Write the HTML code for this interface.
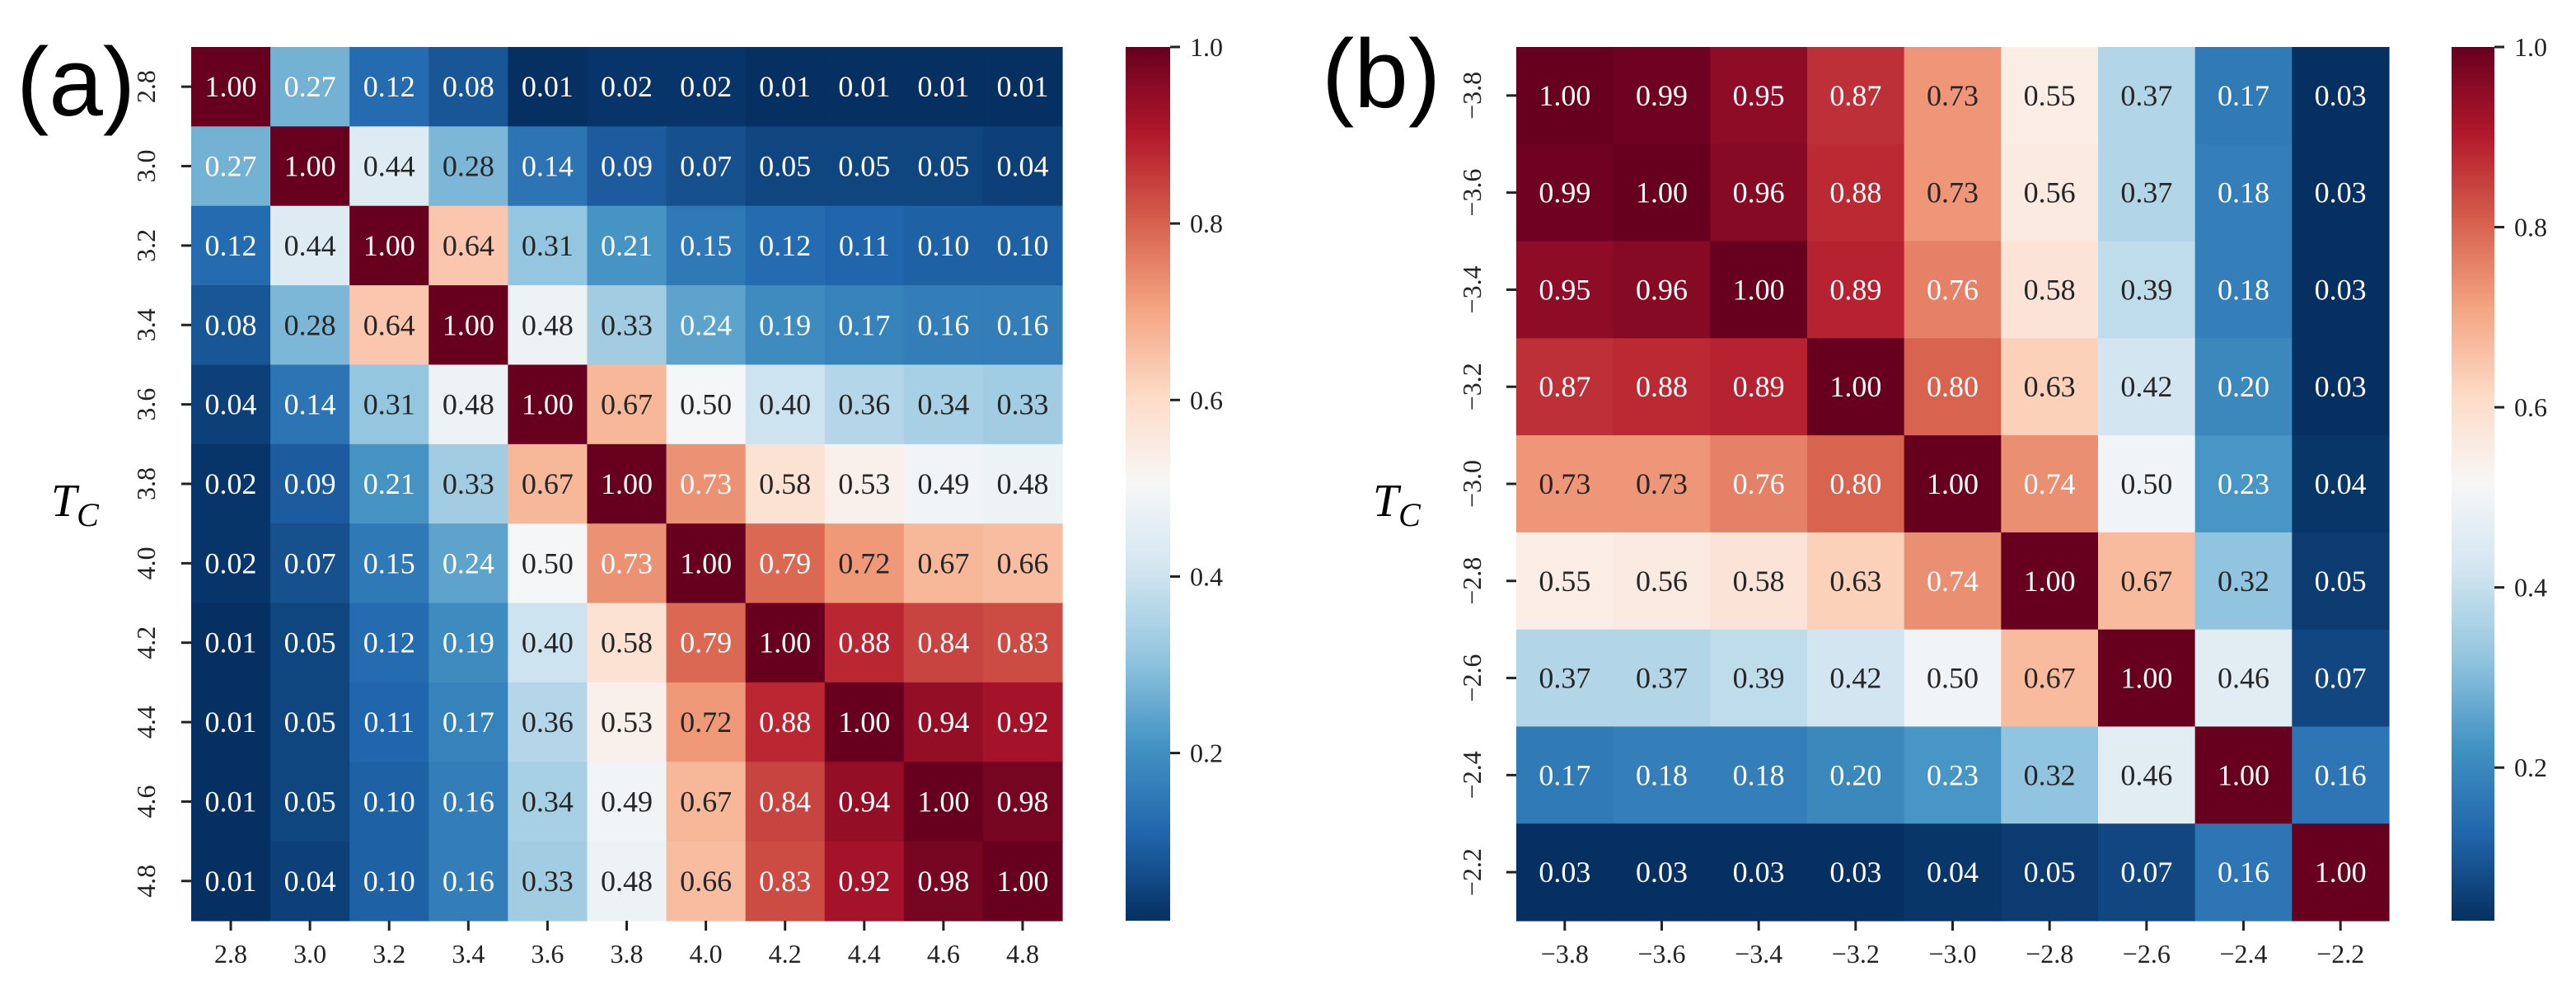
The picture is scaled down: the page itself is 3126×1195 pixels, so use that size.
<!DOCTYPE html>
<html><head><meta charset="utf-8"><style>
html,body{margin:0;padding:0;background:#fff;}
svg{display:block;}
text{font-family:"Liberation Serif",serif;}
</style></head><body>
<svg id="fig" width="3126" height="1195" viewBox="0 0 3126 1195" xmlns="http://www.w3.org/2000/svg">
<rect x="0" y="0" width="3126" height="1195" fill="#fff"/>
<text x="20" y="140" font-size="118" style="font-family:'Liberation Sans',sans-serif">(a)</text>
<text x="1604" y="130" font-size="118" style="font-family:'Liberation Sans',sans-serif">(b)</text>
<text x="62" y="626" font-size="56" font-style="italic">T<tspan font-size="40" dy="12">C</tspan></text>
<text x="1666" y="626" font-size="56" font-style="italic">T<tspan font-size="40" dy="12">C</tspan></text>
</svg>
<script>
const catsA = ["2.8","3.0","3.2","3.4","3.6","3.8","4.0","4.2","4.4","4.6","4.8"];
const valsA = [
[1.00,0.27,0.12,0.08,0.01,0.02,0.02,0.01,0.01,0.01,0.01],
[0.27,1.00,0.44,0.28,0.14,0.09,0.07,0.05,0.05,0.05,0.04],
[0.12,0.44,1.00,0.64,0.31,0.21,0.15,0.12,0.11,0.10,0.10],
[0.08,0.28,0.64,1.00,0.48,0.33,0.24,0.19,0.17,0.16,0.16],
[0.04,0.14,0.31,0.48,1.00,0.67,0.50,0.40,0.36,0.34,0.33],
[0.02,0.09,0.21,0.33,0.67,1.00,0.73,0.58,0.53,0.49,0.48],
[0.02,0.07,0.15,0.24,0.50,0.73,1.00,0.79,0.72,0.67,0.66],
[0.01,0.05,0.12,0.19,0.40,0.58,0.79,1.00,0.88,0.84,0.83],
[0.01,0.05,0.11,0.17,0.36,0.53,0.72,0.88,1.00,0.94,0.92],
[0.01,0.05,0.10,0.16,0.34,0.49,0.67,0.84,0.94,1.00,0.98],
[0.01,0.04,0.10,0.16,0.33,0.48,0.66,0.83,0.92,0.98,1.00]];
const catsB = ["\u22123.8","\u22123.6","\u22123.4","\u22123.2","\u22123.0","\u22122.8","\u22122.6","\u22122.4","\u22122.2"];
const valsB = [
[1.00,0.99,0.95,0.87,0.73,0.55,0.37,0.17,0.03],
[0.99,1.00,0.96,0.88,0.73,0.56,0.37,0.18,0.03],
[0.95,0.96,1.00,0.89,0.76,0.58,0.39,0.18,0.03],
[0.87,0.88,0.89,1.00,0.80,0.63,0.42,0.20,0.03],
[0.73,0.73,0.76,0.80,1.00,0.74,0.50,0.23,0.04],
[0.55,0.56,0.58,0.63,0.74,1.00,0.67,0.32,0.05],
[0.37,0.37,0.39,0.42,0.50,0.67,1.00,0.46,0.07],
[0.17,0.18,0.18,0.20,0.23,0.32,0.46,1.00,0.16],
[0.03,0.03,0.03,0.03,0.04,0.05,0.07,0.16,1.00]];
const cbTicks = [0.2,0.4,0.6,0.8,1.0];

const NS="http://www.w3.org/2000/svg";
const svg=document.getElementById('fig');
const stops=["#053061","#2166ac","#4393c3","#92c5de","#d1e5f0","#f7f7f7","#fddbc7","#f4a582","#d6604d","#b2182b","#67001f"];
function hex(h){return [1,3,5].map(i=>parseInt(h.substr(i,2),16));}
function cmap(t){t=Math.max(0,Math.min(1,t));const p=t*10,i=Math.min(9,Math.floor(p)),f=p-i;
 const a=hex(stops[i]),b=hex(stops[i+1]);return a.map((v,k)=>Math.round(v+(b[k]-v)*f));}
function rgb(c){return `rgb(${c[0]},${c[1]},${c[2]})`;}
function lum(c){const l=c.map(v=>{v/=255;return v<=0.03928?v/12.92:Math.pow((v+0.055)/1.055,2.4);});return 0.2126*l[0]+0.7152*l[1]+0.0722*l[2];}
function mk(tag,attrs,parent){const e=document.createElementNS(NS,tag);for(const k in attrs)e.setAttribute(k,attrs[k]);(parent||svg).appendChild(e);return e;}

function panel(id,cats,vals,X0,X1,Y0,Y1,ylabX,cbX0,cbX1){
 const n=cats.length, cw=(X1-X0)/n, ch=(Y1-Y0)/n;
 const flat=vals.flat(), vmin=Math.min(...flat), vmax=Math.max(...flat);
 const xs=i=>X0+i*cw, ys=j=>Y0+j*ch;
 const g=mk('g',{});
 
 
 for(let r=0;r<n;r++)for(let c=0;c<n;c++){
  const v=vals[r][c], col=cmap((v-vmin)/(vmax-vmin));
  const rc=mk('rect',{x:xs(c),y:ys(r),width:cw+0.6,height:ch+0.6,fill:rgb(col)},g);
  
  
  const t=mk('text',{x:xs(c)+cw/2,y:ys(r)+ch/2+12,'font-size':36,'text-anchor':'middle',fill:lum(col)>0.408?'#262626':'#ffffff'},g);
  t.textContent=v.toFixed(2);
  
  
 }
 for(let i=0;i<n;i++){
  const cx=xs(i)+cw/2, cy=ys(i)+ch/2;
  mk('line',{x1:cx,y1:Y1,x2:cx,y2:Y1+12,stroke:'#222','stroke-width':3});
  const tx=mk('text',{x:cx,y:1168,'font-size':32,'text-anchor':'middle',fill:'#222'});
  tx.textContent=cats[i];
  
  
  mk('line',{x1:X0-12,y1:cy,x2:X0,y2:cy,stroke:'#222','stroke-width':3});
  const ty=mk('text',{x:0,y:0,'font-size':32,'text-anchor':'middle',fill:'#222',transform:`translate(${ylabX},${cy}) rotate(-90)`});
  ty.textContent=cats[i];
  
  
 }
 const defs=mk('defs',{});
 const lg=mk('linearGradient',{id:'grad'+id,x1:0,y1:1,x2:0,y2:0},defs);
 for(let k=0;k<=20;k++){mk('stop',{offset:k/20,'stop-color':rgb(cmap(k/20))},lg);}
 const cb=mk('rect',{x:cbX0,y:Y0,width:cbX1-cbX0,height:Y1-Y0,fill:`url(#grad${id})`});
 
 
 const cy=v=>Y1-(v-vmin)/(vmax-vmin)*(Y1-Y0);
 cbTicks.forEach(v=>{
  mk('line',{x1:cbX1,y1:cy(v),x2:cbX1+12,y2:cy(v),stroke:'#222','stroke-width':3});
  const t=mk('text',{x:cbX1+24,y:cy(v)+11,'font-size':32,fill:'#222'});
  t.textContent=v.toFixed(1);
  
  
 });
}
panel('a',catsA,valsA,232,1289,57,1117,188,1366,1420);
panel('b',catsB,valsB,1840,2899,57,1117,1797,2975,3027);
</script>
</body></html>
